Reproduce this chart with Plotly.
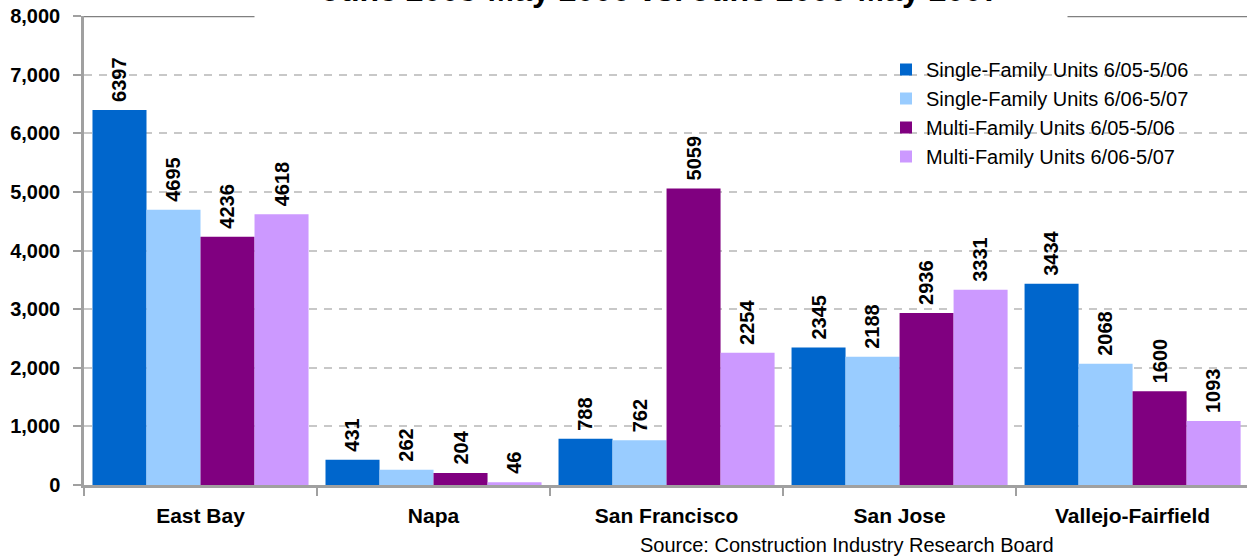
import plotly.graph_objects as go

# Permit counts by region and period
regions = ["East Bay", "Napa", "San Francisco", "San Jose", "Vallejo-Fairfield"]
series_names = [
    "Single-Family Units 6/05-5/06",
    "Single-Family Units 6/06-5/07",
    "Multi-Family Units 6/05-5/06",
    "Multi-Family Units 6/06-5/07",
]
sf_0506 = [6397, 431, 788, 2345, 3434]
sf_0607 = [4695, 262, 762, 2188, 2068]
mf_0506 = [4236, 204, 5059, 2936, 1600]
mf_0607 = [4618, 46, 2254, 3331, 1093]
y_ticks = [0, 1000, 2000, 3000, 4000, 5000, 6000, 7000, 8000]

title_text = "June 2005-May 2006 vs. June 2006-May 2007"
source_text = "Source: Construction Industry Research Board"

colors = ["#0066CC", "#99CCFF", "#800080", "#CC99FF"]
series_values = [sf_0506, sf_0607, mf_0506, mf_0607]

FONT = "Liberation Sans, Arial, sans-serif"
BAR_W = 0.2318
GROUP_START = -2 * BAR_W

fig = go.Figure()
annotations = []
for i, (name, vals, col) in enumerate(zip(series_names, series_values, colors)):
    off = GROUP_START + i * BAR_W
    fig.add_trace(go.Bar(
        x=regions, y=vals, name=name,
        marker=dict(color=col, line=dict(width=0)),
        width=BAR_W, offset=off,
    ))
    # value label above each bar, rotated
    for j, v in enumerate(vals):
        annotations.append(dict(
            x=j + off + BAR_W / 2, y=v, xref="x", yref="y",
            text=str(v), showarrow=False, textangle=-90,
            xanchor="center", yanchor="bottom", yshift=6,
            font=dict(family=FONT, size=20, color="#000000", weight="bold"),
        ))

# Chart title at the very top edge; its white box breaks the top rule
annotations.append(dict(
    x=0.496, y=1 + (16 - 19) / 469, xref="paper", yref="paper",
    text=title_text, showarrow=False,
    xanchor="center", yanchor="bottom",
    bgcolor="#FFFFFF", borderpad=10, width=792,
    font=dict(family=FONT, size=32, color="#000000", weight="bold"),
))
# Source note under the axis
annotations.append(dict(
    x=(638 - 84) / 1163, y=-(545 - 485) / 469, xref="paper", yref="paper",
    text=source_text, showarrow=False,
    xanchor="left", yanchor="middle",
    font=dict(family=FONT, size=20, color="#000000"),
))

fig.update_layout(
    width=1247, height=558,
    margin=dict(l=84, r=0, t=16, b=73, pad=0),
    paper_bgcolor="#FFFFFF", plot_bgcolor="#FFFFFF",
    barmode="overlay",
    showlegend=True,
    legend=dict(
        x=(886 - 84) / 1163, y=(485 - 50) / 469,
        xanchor="left", yanchor="top",
        bgcolor="rgba(255,255,255,0)",
        font=dict(family=FONT, size=20, color="#000000"),
        tracegroupgap=0, itemsizing="constant",
    ),
    annotations=annotations,
    shapes=[dict(
        type="line", xref="paper", yref="y",
        x0=0, x1=1, y0=8000, y1=8000,
        line=dict(color="#808080", width=2.5),
        layer="above",
    )],
    xaxis=dict(
        type="category", range=[-0.5, 4.491],
        showline=True, linecolor="#A0A0A0", linewidth=2.5,
        ticks="outside", tickson="boundaries", ticklen=8,
        tickcolor="#A0A0A0", tickwidth=2,
        showgrid=False, zeroline=False,
        tickfont=dict(family=FONT, size=21, color="#000000", weight="bold"),
        ticklabelstandoff=10,
    ),
    yaxis=dict(
        range=[0, 8000], tickvals=y_ticks, tickformat=",d",
        showline=True, linecolor="#A0A0A0", linewidth=2.5,
        ticks="outside", ticklen=8, tickcolor="#A0A0A0", tickwidth=2,
        showgrid=True, gridcolor="#C8C8C8", gridwidth=1.5,
        griddash="8px,7px", zeroline=False,
        tickfont=dict(family=FONT, size=20, color="#000000", weight="bold"),
        ticklabelstandoff=9,
    ),
)

fig.write_html("out.html")
